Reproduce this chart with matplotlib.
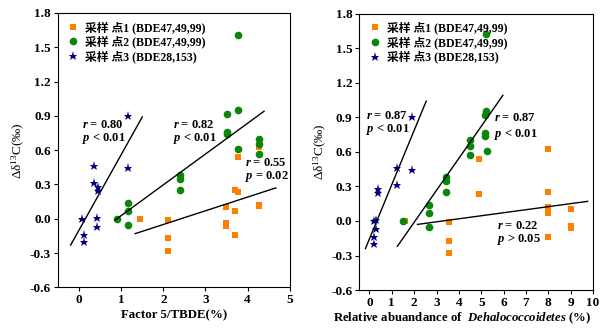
import matplotlib
matplotlib.use("Agg")
import matplotlib.pyplot as plt

plt.rcParams['font.family'] = ['Liberation Serif', 'Noto Sans CJK SC', 'DejaVu Sans']
plt.rcParams['mathtext.fontset'] = 'custom'
plt.rcParams['mathtext.rm'] = 'Liberation Serif'
plt.rcParams['mathtext.it'] = 'Liberation Serif:italic:bold'
plt.rcParams['mathtext.bf'] = 'Liberation Serif:bold'

# sampling sites
labels = ['采样 点1 (BDE47,49,99)', '采样 点2 (BDE47,49,99)', '采样 点3 (BDE28,153)']

# left: Factor 5/TBDE (%)
f5_s1 = [1.44, 2.12, 2.12, 2.12, 3.49, 3.49, 3.49, 3.69, 3.77, 3.69, 3.69, 4.28, 4.28, 3.77, 4.28]
d13_s1 = [0.00, -0.01, -0.17, -0.28, 0.10, -0.04, -0.06, 0.25, 0.23, 0.07, -0.14, 0.11, 0.12, 0.54, 0.63]
f5_s2 = [0.89, 1.17, 1.17, 1.17, 2.40, 2.40, 2.40, 3.52, 3.52, 3.52, 3.77, 3.77, 3.77, 4.28, 4.28, 4.28]
d13_s2 = [0.00, 0.14, 0.07, -0.05, 0.38, 0.35, 0.25, 0.92, 0.76, 0.74, 0.95, 1.61, 0.61, 0.70, 0.65, 0.57]
f5_s3 = [0.36, 1.16, 1.16, 0.35, 0.45, 0.46, 0.08, 0.42, 0.42, 0.12, 0.12]
d13_s3 = [0.46, 0.90, 0.44, 0.31, 0.28, 0.24, 0.00, 0.01, -0.07, -0.14, -0.20]

# right: Dehalococcoidetes relative abundance (%)
dhc_s1 = [1.61, 3.54, 3.54, 3.54, 4.88, 7.99, 8.00, 8.00, 8.00, 7.99, 9.00, 9.00, 9.00, 4.90, 8.01]
dhc_d13_s1 = [0.00, -0.01, -0.17, -0.28, 0.23, 0.25, 0.12, 0.10, 0.07, -0.14, 0.10, -0.04, -0.06, 0.54, 0.62]
dhc_s2 = [1.48, 2.66, 2.66, 2.66, 3.42, 3.42, 3.42, 5.15, 5.22, 5.15, 5.15, 5.21, 5.25, 4.51, 4.51, 4.51]
dhc_d13_s2 = [0.00, 0.14, 0.07, -0.05, 0.38, 0.35, 0.25, 0.92, 0.95, 0.76, 0.74, 1.62, 0.61, 0.70, 0.65, 0.57]
dhc_s3 = [1.23, 1.92, 1.23, 0.40, 0.40, 0.21, 0.30, 0.31, 0.22, 0.22, 1.91]
dhc_d13_s3 = [0.46, 0.44, 0.31, 0.28, 0.24, 0.00, 0.01, -0.07, -0.14, -0.20, 0.90]

# regression lines (x ends, y ends)
fit_left = [([1.33, 4.67], [-0.13, 0.27]), ([0.86, 4.39], [-0.01, 0.94]), ([-0.20, 1.50], [-0.23, 0.89])]
fit_right = [([2.15, 9.76], [-0.03, 0.17]), ([1.25, 5.97], [-0.22, 1.09]), ([-0.18, 2.54], [-0.24, 1.04])]

# r / p annotations
stats_left = [(0.06, 0.82, 0.70, '0.80', '< 0.01'), (2.23, 0.82, 0.70, '0.82', '< 0.01'),
              (3.94, 0.49, 0.37, '0.55', '= 0.02')]
stats_right = [(-0.16, 0.91, 0.79, '0.87', '< 0.01'), (5.58, 0.89, 0.75, '0.87', '< 0.01'),
               (5.70, -0.04, -0.165, '0.22', '> 0.05')]

colors = ['#ff8000', '#0a870a', '#000080']
markers = ['s', 'o', '*']
msizes = [4.8, 5.5, 6.5]

fig = plt.figure(figsize=(6.02, 3.30), dpi=100)
ax1 = fig.add_axes([0.0963, 0.129, 0.385, 0.832])
ax2 = fig.add_axes([0.597, 0.121, 0.388, 0.838])


def draw(ax, xs, ys, fits, stats, xlim, xticks):
    for i in range(3):
        ax.plot(xs[i], ys[i], linestyle='none', marker=markers[i], color=colors[i],
                markersize=msizes[i], markeredgewidth=0, label=labels[i])
    for fx, fy in fits:
        ax.plot(fx, fy, color='black', lw=1)
    for x, yr, yp, r, p in stats:
        ax.text(x, yr, r'$\it{r}$ = ' + r, fontsize=9, fontweight='bold', va='center')
        ax.text(x, yp, r'$\it{p}$ ' + p, fontsize=9, fontweight='bold', va='center')
    ax.set_xlim(*xlim)
    ax.set_ylim(-0.6, 1.8)
    ax.set_xticks(xticks)
    ax.set_yticks([-0.6, -0.3, 0.0, 0.3, 0.6, 0.9, 1.2, 1.5, 1.8])
    ax.set_yticklabels(['%.1f' % v for v in ax.get_yticks()])
    ax.tick_params(direction='out', length=3, width=0.8, labelsize=9.5, pad=2)
    for lab in ax.get_xticklabels() + ax.get_yticklabels():
        lab.set_fontweight('bold')
    ax.set_ylabel('Δδ$^{13}$C(‰)', fontsize=9.5, labelpad=2)
    leg = ax.legend(loc='upper left', frameon=False, fontsize=8.5, handletextpad=0.4,
                    borderaxespad=0.3, labelspacing=0.15, handlelength=1.2)
    for t in leg.get_texts():
        t.set_fontweight('bold')


draw(ax1, [f5_s1, f5_s2, f5_s3], [d13_s1, d13_s2, d13_s3], fit_left, stats_left,
     (-0.5, 5), [0, 1, 2, 3, 4, 5])
ax1.set_xlabel('Factor 5/TBDE(%)', fontsize=9.3, fontweight='bold', labelpad=2)

draw(ax2, [dhc_s1, dhc_s2, dhc_s3], [dhc_d13_s1, dhc_d13_s2, dhc_d13_s3], fit_right, stats_right,
     (-0.45, 10), list(range(11)))
ax2.set_xlabel(r'$\mathbf{Relative\ abuandance\ of}\ \ \it{Dehalococcoidetes}\ \mathbf{(\%)}$',
               fontsize=9.2, labelpad=2)
ax2.xaxis.set_label_coords(0.44, -0.075)

fig.savefig('out.png', dpi=100)
